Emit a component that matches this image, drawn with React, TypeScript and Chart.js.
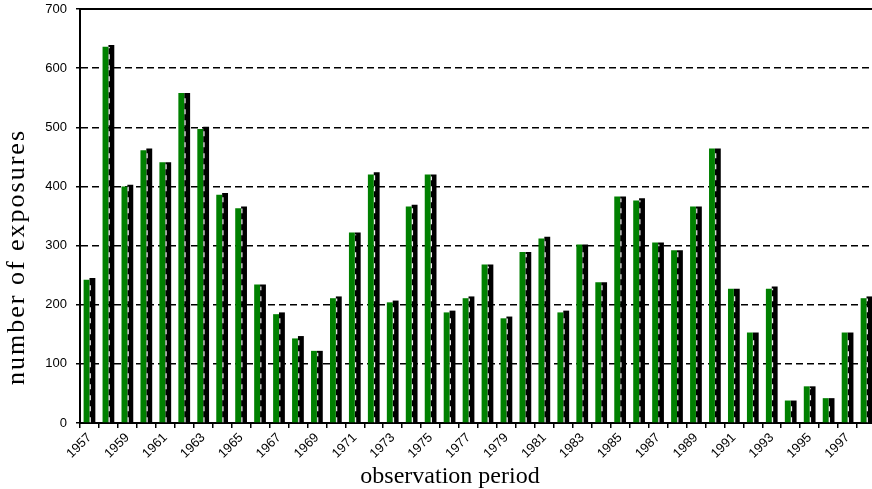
import React, { useEffect, useRef } from "react";
import { Chart, registerables } from "chart.js";

Chart.register(...registerables);

const years: string[] = [
  "1957", "1958", "1959", "1960", "1961", "1962", "1963", "1964", "1965", "1966",
  "1967", "1968", "1969", "1970", "1971", "1972", "1973", "1974", "1975", "1976",
  "1977", "1978", "1979", "1980", "1981", "1982", "1983", "1984", "1985", "1986",
  "1987", "1988", "1989", "1990", "1991", "1992", "1993", "1994", "1995", "1996",
  "1997", "1998",
];

const greenValues: number[] = [
  242, 636, 400, 461, 441, 558, 497, 386, 363, 234,
  184, 143, 122, 211, 322, 420, 204, 366, 420, 187,
  211, 268, 177, 289, 312, 187, 302, 238, 383, 376,
  305, 292, 366, 464, 227, 153, 227, 38, 62, 42,
  153, 211,
];

const blackValues: number[] = [
  245, 639, 403, 464, 441, 558, 501, 389, 366, 234,
  187, 147, 122, 214, 322, 424, 207, 369, 420, 190,
  214, 268, 180, 289, 315, 190, 302, 238, 383, 380,
  305, 292, 366, 464, 227, 153, 231, 38, 62, 42,
  153, 214,
];

const yTicks: number[] = [0, 100, 200, 300, 400, 500, 600, 700];

const xTitle = "observation period";
const yTitle = "number of exposures";

const decorPlugin = {
  id: "decor",
  afterDatasetsDraw(chart: any) {
    const ctx = chart.ctx;
    const meta = chart.getDatasetMeta(1);
    ctx.save();
    ctx.strokeStyle = "#f0f0f0";
    ctx.lineWidth = 1.2;
    ctx.setLineDash([5, 6]);
    meta.data.forEach((bar: any) => {
      const p = bar.getProps(["x", "y", "base", "width"], true);
      const x = p.x - p.width / 2 + 0.8;
      ctx.beginPath();
      ctx.moveTo(x, p.base);
      ctx.lineTo(x, p.y + 2);
      ctx.stroke();
    });
    ctx.restore();
  },
  afterDraw(chart: any) {
    const ctx = chart.ctx;
    const a = chart.chartArea;
    ctx.save();
    ctx.strokeStyle = "#000";
    ctx.lineWidth = 2;
    ctx.beginPath();
    ctx.moveTo(a.left - 1, a.top);
    ctx.lineTo(a.right, a.top);
    ctx.stroke();

    ctx.fillStyle = "#000";
    ctx.font = "24px 'Liberation Serif', 'Times New Roman', serif";
    ctx.textAlign = "center";
    ctx.textBaseline = "alphabetic";
    ctx.fillText(xTitle, 450, 483);

    ctx.translate(24, 257);
    ctx.rotate(-Math.PI / 2);
    try {
      (ctx as any).letterSpacing = "2px";
    } catch (e) {}
    ctx.font = "26px 'Liberation Serif', 'Times New Roman', serif";
    ctx.fillText(yTitle, 0, 0);
    ctx.restore();
  },
};

export default function App() {
  const ref = useRef<HTMLCanvasElement | null>(null);

  useEffect(() => {
    document.body.style.margin = "0";
    document.body.style.overflow = "hidden";
    const canvas = ref.current;
    if (!canvas) return;
    const chart = new Chart(canvas, {
      type: "bar",
      data: {
        labels: years,
        datasets: [
          {
            label: "green",
            data: greenValues,
            backgroundColor: "#008000",
            borderWidth: 0,
            categoryPercentage: 0.62,
            barPercentage: 1.0,
          },
          {
            label: "black",
            data: blackValues,
            backgroundColor: "#000000",
            borderWidth: 0,
            categoryPercentage: 0.62,
            barPercentage: 1.0,
          },
        ],
      },
      options: {
        responsive: false,
        animation: false,
        layout: { padding: { top: 9, left: 0, right: 0, bottom: 0 } },
        plugins: {
          legend: { display: false },
          tooltip: { enabled: false },
          title: { display: false },
        },
        scales: {
          x: {
            type: "category",
            grid: {
              display: true,
              drawOnChartArea: false,
              offset: true,
              drawTicks: true,
              tickLength: 5,
              color: "#000",
              tickColor: "#000",
              lineWidth: 1.5,
            },
            border: { display: true, color: "#000", width: 2 },
            ticks: {
              autoSkip: false,
              maxRotation: 45,
              minRotation: 45,
              padding: 2,
              color: "#000",
              font: { family: "'Liberation Sans', Arial, sans-serif", size: 13 },
              callback: (_v: any, i: number) => (i % 2 === 0 ? years[i] : ""),
            },
            afterFit: (s: any) => {
              s.height = 66;
              s.paddingLeft = 0;
              s.paddingRight = 0;
            },
          },
          y: {
            min: 0,
            max: 700,
            afterBuildTicks: (s: any) => {
              s.ticks = yTicks.map((v) => ({ value: v }));
            },
            grid: {
              color: (c: any) =>
                c.tick && (c.tick.value === 0 || c.tick.value === 700) ? "rgba(0,0,0,0)" : "#000",
              tickColor: "#000",
              lineWidth: 1.5,
              tickLength: 4,
              drawTicks: true,
            },
            border: { display: true, color: "#000", width: 2, dash: [7, 4] },
            ticks: {
              padding: 9,
              color: "#000",
              font: { family: "'Liberation Sans', Arial, sans-serif", size: 13 },
            },
            afterFit: (s: any) => {
              s.width = 80;
              s.paddingTop = 0;
              s.paddingBottom = 0;
            },
          },
        },
      },
      plugins: [decorPlugin],
    });
    return () => chart.destroy();
  }, []);

  return (
    <div style={{ width: 872, height: 489, overflow: "hidden", position: "relative" }}>
      <canvas
        ref={ref}
        width={876}
        height={489}
        style={{ width: 876, height: 489, display: "block", position: "absolute", left: 0, top: 0 }}
      />
    </div>
  );
}
